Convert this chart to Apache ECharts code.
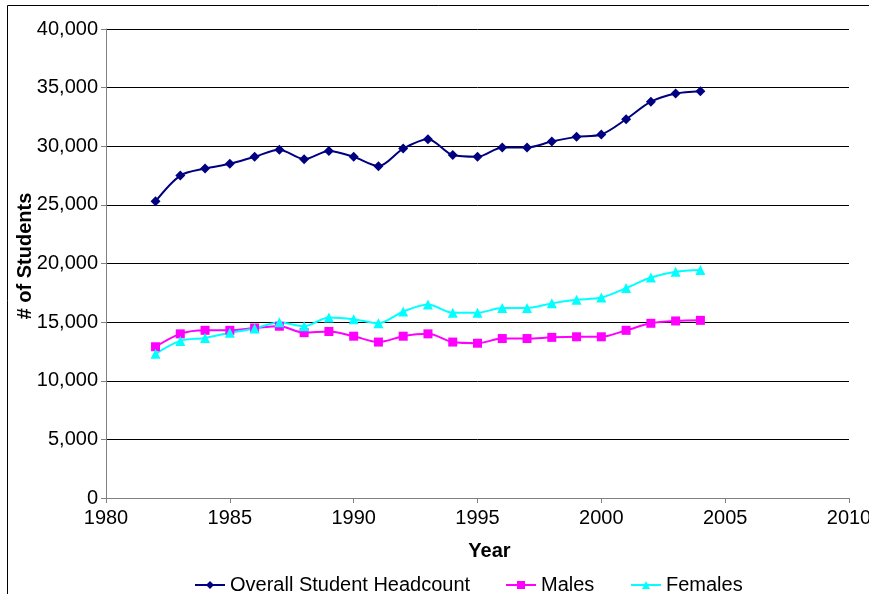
<!DOCTYPE html>
<html><head><meta charset="utf-8">
<script src="https://cdn.jsdelivr.net/npm/echarts@6/dist/echarts.min.js"></script>
<style>html,body{margin:0;padding:0;background:#fff}#c{width:869px;height:594px}</style>
</head><body><div id="c"></div>
<script>
var years = [1982,1983,1984,1985,1986,1987,1988,1989,1990,1991,1992,1993,1994,1995,1996,1997,1998,1999,2000,2001,2002,2003,2004];
var overall = [25300,27500,28100,28500,29100,29700,28900,29600,29100,28300,29800,30600,29250,29100,29900,29900,30400,30800,31000,32300,33800,34500,34700];
var males = [12900,14000,14300,14300,14500,14650,14100,14200,13800,13300,13800,14000,13300,13200,13600,13600,13700,13750,13750,14300,14900,15100,15150];
var females = [12300,13400,13650,14100,14450,15000,14650,15400,15250,14900,15900,16500,15800,15800,16200,16200,16600,16900,17100,17900,18800,19300,19450];
var xTicks = {min:1980, max:2010, interval:5};
var yTicks = {min:0, max:40000, interval:5000};
var yTitle = '# of Students';
var xTitle = 'Year';

function pairs(v){ return years.map(function(y,i){ return [y, v[i]]; }); }
var F = 'Liberation Sans, Arial, sans-serif';
var chart = echarts.init(document.getElementById('c'));
chart.setOption({
  animation:false,
  backgroundColor:'#fff',
  graphic:[
    {type:'rect', shape:{x:7.5,y:5.5,width:900,height:700}, style:{fill:'none', stroke:'#000', lineWidth:1}, z:-1},
    {type:'text', x:25, y:256, rotation:Math.PI/2,
     style:{text:yTitle, fontFamily:F, fontSize:20, fontWeight:'bold', fill:'#000', align:'center', verticalAlign:'middle'}}
  ],
  grid:{left:106, right:20, top:29, bottom:96, containLabel:false, outerBoundsMode:'none'},
  xAxis:{type:'value', min:xTicks.min, max:xTicks.max, interval:xTicks.interval,
    name:xTitle, nameLocation:'middle', nameGap:43,
    nameTextStyle:{fontFamily:F, fontSize:20, fontWeight:'bold', color:'#000', padding:[0,0,0,24]},
    axisLine:{lineStyle:{color:'#808080', width:1}},
    axisTick:{show:true, length:5, lineStyle:{color:'#808080'}},
    axisLabel:{fontFamily:F, fontSize:20, color:'#000', margin:10, formatter:function(v){ return String(v); }},
    splitLine:{show:false}},
  yAxis:{type:'value', min:yTicks.min, max:yTicks.max, interval:yTicks.interval,
    axisLine:{show:true, lineStyle:{color:'#808080', width:1}},
    axisTick:{show:true, length:5, lineStyle:{color:'#808080'}},
    axisLabel:{fontFamily:F, fontSize:20, color:'#000', margin:8,
      formatter:function(v){ return v.toLocaleString('en-US'); }},
    splitLine:{show:true, lineStyle:{color:'#000', width:1}}},
  legend:[
    {data:['Overall Student Headcount'], left:189, top:570, itemWidth:30, itemHeight:10, textStyle:{fontFamily:F, fontSize:20, color:'#000'}},
    {data:['Males'], left:500, top:570, itemWidth:30, itemHeight:10, textStyle:{fontFamily:F, fontSize:20, color:'#000'}},
    {data:['Females'], left:625, top:570, itemWidth:30, itemHeight:10, textStyle:{fontFamily:F, fontSize:20, color:'#000'}}
  ],
  series:[
    {name:'Overall Student Headcount', type:'line', data:pairs(overall), smooth:0.3,
     symbol:'diamond', symbolSize:10, itemStyle:{color:'#000080'}, lineStyle:{color:'#000080', width:2}},
    {name:'Males', type:'line', data:pairs(males), smooth:0.3,
     symbol:'rect', symbolSize:9, itemStyle:{color:'#FF00FF'}, lineStyle:{color:'#FF00FF', width:2}},
    {name:'Females', type:'line', data:pairs(females), smooth:0.3,
     symbol:'triangle', symbolSize:10, itemStyle:{color:'#00FFFF'}, lineStyle:{color:'#00FFFF', width:2}}
  ]
});
</script></body></html>
